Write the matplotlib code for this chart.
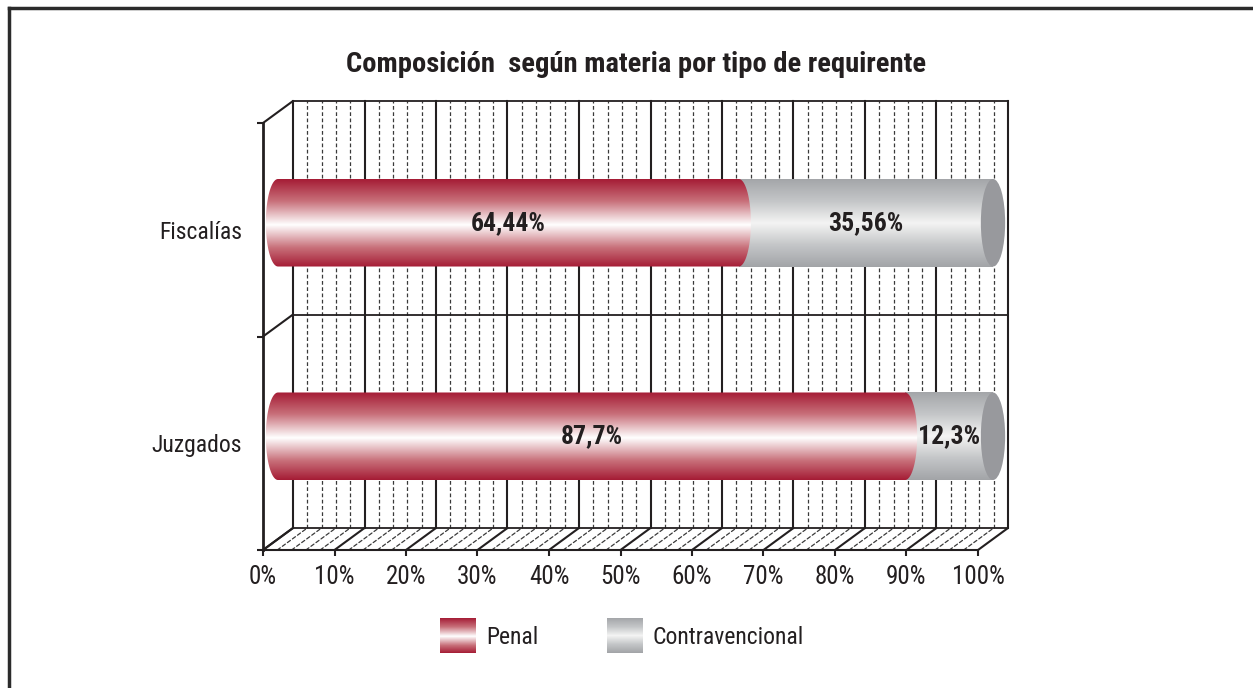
import numpy as np
import matplotlib
matplotlib.use('Agg')
import matplotlib.pyplot as plt
from matplotlib import font_manager
from matplotlib.transforms import ScaledTranslation, Bbox, TransformedBbox
from matplotlib.patches import PathPatch, Ellipse, ConnectionPatch
from matplotlib.path import Path
from matplotlib.lines import Line2D
from matplotlib.image import BboxImage
from matplotlib.legend_handler import HandlerBase
from matplotlib.colors import LinearSegmentedColormap

# data
categories = ['Juzgados', 'Fiscalías']
penal = [87.7, 64.44]
contravencional = [12.3, 35.56]
penal_labels = ['87,7%', '64,44%']
contra_labels = ['12,3%', '35,56%']
series_names = ['Penal', 'Contravencional']
xticks = list(range(0, 101, 10))
xtick_labels = [f'{t}%' for t in xticks]
title = 'Composición  según materia por tipo de requirente'

# narrow (Helvetica Condensed-like) font if one is around
names = {f.name for f in font_manager.fontManager.ttflist}
FONT, SCALE = 'DejaVu Sans', 0.8
for cand in ['Liberation Sans Narrow', 'Roboto Condensed', 'Archivo Narrow',
             'PT Sans Narrow', 'Pragati Narrow', 'Fira Sans Condensed',
             'IBM Plex Sans Condensed', 'Open Sans Condensed']:
    if cand in names:
        FONT, SCALE = cand, 1.0
        break
plt.rcParams['font.family'] = [FONT, 'DejaVu Sans']
TXT = '#231f20'
FS_LAB = 18.5 * SCALE
FS_TICK = 18 * SCALE
FS_CAT = 17 * SCALE
FS_LEG = 17 * SCALE
FS_TITLE = 20.5 * SCALE

red_cmap = LinearSegmentedColormap.from_list(
    'red_cyl', [(0, '#a51c35'), (0.25, '#c8707a'), (0.52, '#ffffff'),
                (0.78, '#c8707a'), (1, '#a51c35')])
gray_cmap = LinearSegmentedColormap.from_list(
    'gray_cyl', [(0, '#a4a6a9'), (0.25, '#c4c6c8'), (0.5, '#f4f4f4'),
                 (0.75, '#c4c6c8'), (1, '#a2a4a7')])
cap_color = '#98999d'
grad = np.linspace(0, 1, 256)[:, None]

DPI = 100
fig = plt.figure(figsize=(12.53, 6.88), dpi=DPI)
ax = fig.add_axes([263 / 1253, 138 / 688, 715 / 1253, 427 / 688])
ax.set_facecolor('none')

# depth offsets (pixels) for the 3-D look
DX, DY = 30, 22
back = ax.transData + ScaledTranslation(DX / DPI, DY / DPI, fig.dpi_scale_trans)
mid = ax.transData + ScaledTranslation(DX / 2 / DPI, (DY / 2 - 4) / DPI, fig.dpi_scale_trans)

# back wall grid + floor
for v in range(0, 101, 2):
    major = v % 10 == 0
    kw = dict(color='#231f20' if major else '#3a3a3a',
              lw=1.5 if major else 0.9,
              ls='-' if major else (0, (3, 2)))
    ax.plot([v, v], [-0.5, 1.5], transform=back, clip_on=False, zorder=1, **kw)
    ax.add_artist(ConnectionPatch((v, -0.5), (v, -0.5), coordsA=ax.transData,
                                  coordsB=back, zorder=1, **kw))
for yv in (-0.5, 0.5, 1.5):
    ax.plot([0, 100], [yv, yv], transform=back, color='#231f20', lw=1.3,
            clip_on=False, zorder=1)
    ax.add_artist(ConnectionPatch((0, yv), (0, yv), coordsA=ax.transData,
                                  coordsB=back, color='#231f20', lw=1.5, zorder=1))

# cylinders
hh = 0.205   # half height (category units)
cw = 1.7     # cap half width (% units)


def cyl_path(x0, x1, y, left_cap, right_cap):
    verts = [(x0, y + hh), (x1, y + hh)]
    if right_cap:
        t = np.linspace(np.pi / 2, -np.pi / 2, 40)
        verts += list(zip(x1 + cw * np.cos(t), y + hh * np.sin(t)))
    verts += [(x1, y - hh), (x0, y - hh)]
    if left_cap:
        t = np.linspace(-np.pi / 2, -3 * np.pi / 2, 40)
        verts += list(zip(x0 + cw * np.cos(t), y + hh * np.sin(t)))
    verts.append((x0, y + hh))
    return Path(verts)


def gradient_fill(path, cmap, x0, x1, y, z):
    clip = PathPatch(path, transform=mid)
    im = ax.imshow(grad, extent=(x0 - cw, x1 + cw, y - hh, y + hh),
                   transform=mid, cmap=cmap, aspect='auto', origin='upper',
                   interpolation='bilinear', zorder=z)
    im.set_clip_box(fig.bbox)
    im.set_clip_path(clip)


for i, cat in enumerate(categories):
    b = penal[i]
    end = penal[i] + contravencional[i]
    gradient_fill(cyl_path(b, end, i, False, False), gray_cmap, b, end, i, 3)
    ax.add_patch(Ellipse((end, i), 2 * cw, 2 * hh, transform=mid, clip_on=False,
                         facecolor=cap_color, edgecolor='none', zorder=4))
    gradient_fill(cyl_path(0, b, i, True, True), red_cmap, 0, b, i, 5)
    ax.text(b / 2, i, penal_labels[i], transform=mid, ha='center', va='center',
            fontsize=FS_LAB, fontweight='bold', color=TXT, zorder=6)
    ax.text((b + end) / 2, i, contra_labels[i], transform=mid, ha='center',
            va='center', fontsize=FS_LAB, fontweight='bold', color=TXT, zorder=6)

ax.set_xlim(0, 100)
ax.set_ylim(-0.5, 1.5)

# front axes
for s in ('top', 'right'):
    ax.spines[s].set_visible(False)
ax.spines['left'].set_linewidth(2)
ax.spines['bottom'].set_linewidth(1.5)
ax.spines['left'].set_color('#231f20')
ax.spines['bottom'].set_color('#231f20')
ax.set_xticks(xticks)
ax.set_xticklabels(xtick_labels)
ax.set_yticks([-0.5, 0.5, 1.5])
ax.set_yticklabels([])
ax.set_yticks(range(len(categories)), minor=True)
ax.set_yticklabels(categories, minor=True)
ax.tick_params(axis='x', length=4.5, width=1.5, color='#231f20',
               labelsize=FS_TICK, labelcolor=TXT, pad=6)
ax.tick_params(axis='y', which='major', length=4.5, width=1.5, color='#231f20')
ax.tick_params(axis='y', which='minor', length=0, labelsize=FS_CAT,
               labelcolor=TXT, pad=15)

fig.text(636 / 1253, 1 - 64 / 688, title, ha='center', va='center',
         fontsize=FS_TITLE, fontweight='bold', color=TXT)


# legend with gradient swatches
class GradientHandler(HandlerBase):
    def __init__(self, cmap):
        super().__init__()
        self.cmap = cmap

    def create_artists(self, legend, orig_handle, xdescent, ydescent,
                       width, height, fontsize, trans):
        bb = TransformedBbox(Bbox.from_bounds(-xdescent, -ydescent, width, height), trans)
        img = BboxImage(bb, cmap=self.cmap, interpolation='bilinear')
        img.set_data(grad)
        return [img]


h_red = Line2D([], [])
h_gray = Line2D([], [], ls='--')
fig.legend([h_red, h_gray], series_names,
           handler_map={h_red: GradientHandler(red_cmap), h_gray: GradientHandler(gray_cmap)},
           loc='center left', bbox_to_anchor=(440 / 1253, 1 - 636 / 688), ncol=2,
           frameon=False, fontsize=FS_LEG, labelcolor=TXT, borderpad=0,
           borderaxespad=0, handlelength=36 / (FS_LEG * DPI / 72),
           handleheight=1.9, handletextpad=0.42, columnspacing=2.9)

# outer frame (left and top edges)
fig.add_artist(Line2D([8.5 / 1253, 8.5 / 1253], [0, 1 - 7.5 / 688],
                      transform=fig.transFigure, color='#2b2b2b', lw=2.5))
fig.add_artist(Line2D([8.5 / 1253, 1], [1 - 7.5 / 688, 1 - 7.5 / 688],
                      transform=fig.transFigure, color='#2b2b2b', lw=2.5))

fig.savefig('out.png', dpi=DPI)
